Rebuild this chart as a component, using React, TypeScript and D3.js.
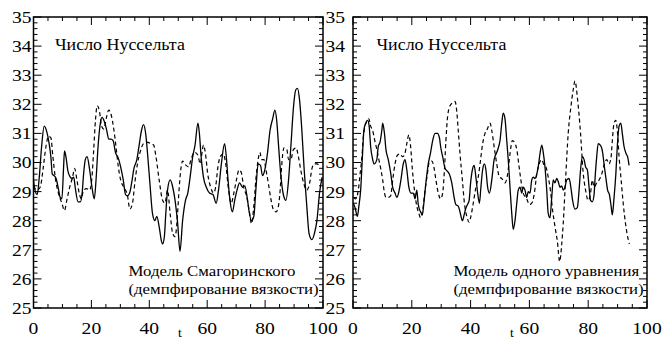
import React from 'react';
import * as d3 from 'd3';

// ---- data (t, Nu) ----
const xMajorTicks = [0, 20, 40, 60, 80, 100];
const yMajorTicks = [25, 26, 27, 28, 29, 30, 31, 32, 33, 34, 35];
const titleText = 'Число Нуссельта';
const leftNote = ['Модель Смагоринского', '(демпфирование вязкости)'];
const rightNote = ['Модель одного уравнения', '(демпфирование вязкости)'];
const xAxisLabel = 't';

const leftSolid: [number, number][] = [
  [0, 29.4], [0.5, 29.05], [1.3, 28.9], [2.0, 29.5], [2.8, 30.55], [3.7, 31.25], [4.6, 31.05], [5.4, 30.65],
  [6.0, 30.2], [6.5, 29.6], [7.1, 29.55], [7.8, 29.45], [8.6, 29.1], [9.2, 28.8], [9.8, 28.75], [10.4, 29.85],
  [10.7, 30.4], [11.2, 30.2], [11.9, 29.7], [12.7, 29.5], [13.3, 29.45], [13.9, 29.5], [14.4, 29.15], [15.4, 28.65],
  [16.2, 28.65], [16.8, 28.95], [17.3, 29.6], [17.9, 30.1], [18.5, 30.2], [19.4, 29.75], [20.2, 29.15], [21.0, 28.75],
  [21.6, 29.4], [22.3, 30.55], [23.1, 31.35], [23.7, 31.55], [24.5, 31.4], [25.2, 31.15], [26.0, 30.8], [26.8, 30.8],
  [27.5, 30.75], [28.3, 30.35], [29.3, 30.15], [30.1, 29.85], [31.0, 29.4], [31.8, 28.9], [32.4, 28.85], [33.2, 28.95],
  [33.9, 29.3], [34.7, 29.8], [35.7, 30.1], [36.5, 30.6], [37.3, 31.1], [38.0, 31.3], [38.8, 30.95], [39.4, 30.3],
  [40.2, 29.3], [41.1, 28.25], [41.9, 28.0], [42.6, 28.15], [43.4, 27.8], [44.2, 27.3], [44.6, 27.2], [45.2, 27.45],
  [45.7, 28.25], [46.3, 29.05], [47.2, 29.4], [48.1, 29.15], [48.9, 28.7], [49.8, 27.9], [50.6, 26.95], [51.5, 28.0],
  [52.5, 28.7], [53.3, 28.95], [54.1, 29.5], [55.0, 30.2], [55.8, 30.6], [56.8, 31.35], [57.3, 31.0], [57.9, 30.2],
  [58.7, 29.5], [59.7, 29.15], [60.8, 28.95], [62.0, 28.9], [63.1, 28.6], [63.9, 29.05], [64.9, 29.95], [66.0, 30.65],
  [66.6, 30.2], [67.2, 29.4], [68.0, 28.6], [68.7, 28.3], [69.5, 28.7], [70.3, 29.05], [71.2, 29.3], [72.2, 29.15],
  [73.0, 29.2], [73.8, 28.8], [74.5, 28.3], [75.3, 28.0], [76.1, 28.15], [76.8, 29.05], [77.6, 29.95], [78.4, 29.9],
  [79.1, 29.55], [79.9, 29.75], [80.8, 30.3], [81.7, 31.1], [82.6, 31.5], [83.4, 31.8], [84.0, 31.45], [84.6, 30.65],
  [85.4, 29.6], [86.3, 28.9], [87.2, 28.7], [88.1, 29.4], [88.9, 30.55], [89.8, 31.9], [90.6, 32.5], [91.2, 32.55],
  [91.9, 32.15], [92.7, 31.1], [93.5, 29.75], [94.4, 28.5], [95.2, 27.55], [96.2, 27.35], [97.0, 27.55], [97.9, 28.0],
  [98.8, 28.95], [99.7, 29.5],
];

const leftDashed: [number, number][] = [
  [0, 29.2], [1.1, 29.05], [2.3, 29.15], [3.4, 29.85], [4.3, 30.55], [5.2, 30.9], [6.0, 30.85], [6.7, 30.2],
  [7.5, 29.5], [8.6, 28.95], [9.8, 28.6], [10.7, 28.35], [11.5, 28.7], [12.5, 29.15], [13.5, 29.5], [14.2, 29.8],
  [15.0, 29.4], [15.9, 28.9], [16.5, 28.75], [17.3, 29.05], [18.3, 29.1], [19.4, 29.05], [20.2, 29.5], [20.8, 30.45],
  [21.4, 31.45], [22.0, 31.95], [22.8, 31.75], [23.5, 31.25], [24.3, 31.15], [25.2, 31.55], [26.0, 31.8], [26.8, 31.65],
  [27.8, 31.1], [28.6, 30.45], [29.3, 29.85], [30.1, 29.4], [31.2, 29.15], [32.4, 28.9], [33.3, 28.4], [34.2, 28.6],
  [35.0, 29.3], [35.9, 29.95], [36.8, 30.35], [38.0, 30.65], [39.1, 30.7], [40.5, 30.65], [41.5, 30.6], [42.3, 30.2],
  [43.4, 29.4], [44.6, 28.7], [45.4, 28.6], [46.3, 29.05], [47.2, 28.25], [48.1, 27.55], [48.9, 27.45], [49.6, 28.0],
  [50.2, 28.95], [51.0, 29.85], [51.5, 30.05], [52.7, 29.9], [53.6, 29.85], [54.4, 30.1], [55.6, 30.35], [56.8, 30.25],
  [57.6, 29.95], [58.3, 30.4], [58.7, 30.6], [59.4, 30.3], [60.2, 29.6], [61.2, 29.15], [62.2, 28.95], [62.9, 29.15],
  [63.7, 29.85], [64.5, 30.2], [65.5, 30.3], [66.4, 29.95], [67.4, 29.05], [68.3, 28.6], [69.2, 28.95], [70.1, 29.4],
  [71.0, 29.75], [71.8, 29.65], [72.6, 29.15], [73.6, 28.85], [74.5, 28.35], [75.3, 27.9], [76.1, 28.5], [76.8, 29.4],
  [77.6, 30.1], [78.2, 30.35], [78.8, 30.1], [79.6, 30.1], [80.3, 29.75], [81.1, 29.3], [81.9, 28.8], [82.8, 28.4],
  [83.8, 28.3], [84.6, 28.5], [85.2, 29.05], [85.7, 29.85], [86.5, 30.5], [87.5, 30.45], [88.1, 30.1], [88.9, 30.1],
  [89.8, 30.45], [90.7, 30.5], [91.5, 30.2], [92.3, 29.75], [93.3, 29.3], [94.4, 29.05], [95.4, 29.3], [96.2, 29.8],
  [97.0, 29.95], [97.9, 29.95], [99.1, 29.85],
];

const rightSolid: [number, number][] = [
  [0.1, 28.6], [0.7, 28.45], [1.5, 28.15], [2.0, 28.5], [2.6, 29.05], [3.2, 30.2], [3.7, 31.1], [4.3, 31.35],
  [5.0, 31.45], [5.5, 31.25], [6.0, 30.55], [6.7, 30.1], [7.2, 29.95], [8.1, 30.1], [8.6, 30.55], [9.2, 30.7],
  [9.8, 31.1], [10.1, 31.35], [10.7, 31.0], [11.2, 30.45], [12.0, 30.1], [12.8, 29.65], [13.5, 29.15], [14.3, 28.95],
  [14.9, 28.8], [15.5, 28.95], [16.3, 29.4], [17.1, 29.95], [17.7, 30.1], [18.3, 29.75], [19.0, 29.15], [19.7, 28.95],
  [20.5, 28.95], [21.1, 28.75], [21.7, 29.05], [22.2, 28.55], [23.0, 28.3], [23.6, 28.2], [24.1, 28.6], [24.8, 29.3],
  [25.6, 29.95], [26.4, 30.35], [27.1, 30.75], [27.9, 31.0], [28.7, 31.0], [29.4, 30.85], [29.8, 30.55], [30.5, 30.2],
  [31.3, 29.8], [32.1, 29.7], [32.8, 29.6], [33.6, 29.3], [34.4, 28.8], [35.0, 28.55], [35.8, 28.5], [36.4, 28.3],
  [37.2, 28.0], [37.8, 28.2], [38.3, 28.4], [38.9, 28.55], [39.5, 28.7], [40.0, 29.3], [40.6, 29.75], [41.2, 29.9],
  [41.8, 29.5], [42.4, 28.95], [43.0, 28.6], [43.5, 29.15], [44.1, 29.75], [44.7, 29.95], [45.2, 29.75], [45.8, 29.15],
  [46.4, 28.95], [47.2, 29.4], [48.0, 30.1], [48.9, 30.35], [49.4, 30.5], [50.0, 30.75], [50.6, 31.35], [51.1, 31.7],
  [51.7, 31.5], [52.3, 30.75], [52.8, 30.1], [53.4, 29.15], [54.0, 28.25], [54.5, 27.7], [55.1, 28.0], [55.7, 28.6],
  [56.2, 29.05], [56.8, 29.15], [57.4, 28.95], [57.9, 29.15], [58.5, 29.05], [59.1, 28.8], [59.6, 29.0], [60.2, 28.95],
  [60.8, 29.4], [61.3, 29.5], [61.9, 29.45], [62.5, 29.6], [63.0, 29.85], [63.6, 30.3], [64.2, 30.6], [64.7, 30.35],
  [65.3, 29.85], [65.9, 29.05], [66.4, 28.25], [67.0, 28.1], [67.6, 28.8], [68.1, 29.4], [68.7, 29.3], [69.3, 29.45],
  [69.8, 29.35], [70.4, 29.15], [71.0, 29.2], [71.5, 29.05], [72.1, 29.15], [72.7, 29.4], [73.5, 29.45], [74.1, 29.15],
  [74.7, 28.7], [75.5, 28.4], [76.3, 28.45], [76.9, 29.05], [77.4, 29.75], [78.0, 30.2], [78.6, 30.1], [79.1, 29.85],
  [79.7, 29.75], [80.3, 29.15], [80.8, 28.7], [81.4, 28.65], [82.0, 28.9], [82.3, 29.4], [82.9, 30.2], [83.4, 30.65],
  [84.4, 30.55], [84.9, 30.35], [85.5, 29.85], [86.1, 29.4], [86.6, 29.05], [87.2, 28.9], [87.8, 28.5], [88.2, 28.2],
  [88.8, 28.8], [89.4, 29.6], [89.9, 30.55], [90.5, 31.25], [91.1, 31.35], [91.6, 31.0], [92.2, 30.55], [92.9, 30.3],
  [93.4, 30.2], [93.9, 29.9],
];

const rightDashed: [number, number][] = [
  [0.1, 28.8], [0.9, 28.75], [1.8, 29.05], [2.4, 29.6], [3.0, 30.15], [3.5, 30.85], [4.1, 31.25], [4.7, 31.4],
  [5.4, 31.5], [6.0, 31.25], [6.7, 31.1], [7.2, 30.85], [8.1, 30.45], [8.8, 30.1], [9.5, 29.75], [10.1, 29.4],
  [10.7, 28.95], [11.2, 28.8], [12.0, 28.8], [12.8, 28.85], [13.5, 29.4], [14.3, 29.95], [15.1, 30.25], [16.0, 30.3],
  [16.8, 30.2], [17.5, 30.25], [18.3, 30.65], [19.0, 30.95], [19.6, 30.55], [20.2, 29.75], [20.9, 29.05], [21.7, 28.5],
  [22.4, 28.25], [23.0, 28.1], [23.7, 28.35], [24.5, 29.05], [25.3, 29.6], [25.9, 30.0], [26.8, 30.05], [27.6, 29.8],
  [28.2, 29.4], [29.0, 28.95], [29.8, 28.75], [30.5, 28.95], [31.1, 29.75], [31.6, 30.75], [32.2, 31.6], [33.0, 31.95],
  [33.9, 32.05], [34.7, 32.1], [35.3, 31.75], [35.8, 31.1], [36.4, 30.3], [37.2, 29.4], [37.9, 28.6], [38.7, 28.15],
  [39.5, 27.95], [40.1, 28.15], [40.9, 28.6], [41.8, 29.15], [42.6, 29.5], [43.4, 30.1], [44.1, 30.65], [44.9, 31.0],
  [45.7, 31.15], [46.6, 31.35], [47.2, 31.1], [48.0, 30.55], [48.9, 29.95], [49.8, 29.5], [50.6, 29.45], [51.7, 29.3],
  [52.6, 29.6], [53.4, 30.3], [54.2, 30.75], [54.9, 30.7], [55.7, 30.45], [56.5, 29.85], [57.1, 29.4], [57.9, 28.95],
  [59.1, 28.75], [60.0, 28.55], [60.8, 28.6], [61.7, 28.95], [62.5, 29.6], [63.3, 29.95], [64.2, 30.1], [65.0, 29.9],
  [65.6, 29.85], [66.4, 29.5], [67.2, 29.0], [67.9, 28.35], [68.7, 27.8], [69.5, 27.3], [70.3, 26.6], [71.0, 27.2],
  [71.5, 27.9], [72.3, 29.4], [73.2, 31.0], [74.1, 31.9], [74.9, 32.5], [75.5, 32.8], [76.4, 32.15], [77.4, 31.0],
  [78.2, 29.75], [79.1, 29.05], [80.0, 28.7], [80.8, 28.95], [81.4, 29.4], [82.0, 29.15], [82.9, 29.3], [83.7, 29.4],
  [84.6, 29.6], [85.5, 29.95], [86.3, 30.1], [87.1, 29.95], [87.8, 30.2], [88.2, 30.75], [88.8, 31.35], [89.4, 31.45],
  [89.9, 31.1], [90.5, 30.2], [91.2, 29.4], [91.9, 28.6], [92.7, 27.9], [93.4, 27.45], [94.0, 27.2],
];

// ---- layout ----
const W = 662;
const H = 340;
const Y_TOP = 17;
const Y_BOT = 308;
const STRETCH = 1.12;
const FONT = 'Times New Roman';

type PanelCfg = {
  x0: number;
  x1: number;
  solid: [number, number][];
  dashed: [number, number][];
  note: string[];
  yLabelEnd: number;
  titleX: number;
  noteX: number;
  tX: number;
};

const panelCfgs: PanelCfg[] = [
  { x0: 33.5, x1: 323, solid: leftSolid, dashed: leftDashed, note: leftNote, yLabelEnd: 31.5, titleX: 55, noteX: 128.5, tX: 180 },
  { x0: 353, x1: 647, solid: rightSolid, dashed: rightDashed, note: rightNote, yLabelEnd: 345, titleX: 376.5, noteX: 453.5, tX: 512 },
];

function SText({ x, y, size, anchor, children }: { x: number; y: number; size: number; anchor?: string; children: React.ReactNode }) {
  return (
    <text
      x={x / STRETCH}
      y={y}
      transform={`scale(${STRETCH},1)`}
      textAnchor={anchor || 'start'}
      fontSize={size}
      fontFamily={FONT}
      fill="#000"
    >
      {children}
    </text>
  );
}

function Panel({ cfg }: { cfg: PanelCfg }) {
  const x = d3.scaleLinear().domain([0, 100]).range([cfg.x0, cfg.x1]);
  const y = d3.scaleLinear().domain([25, 35]).range([Y_BOT, Y_TOP]);
  const line = d3
    .line<[number, number]>()
    .x((d) => x(d[0]))
    .y((d) => y(d[1]))
    .curve(d3.curveMonotoneX);

  const xMinor = d3.range(0, 100.001, 5);
  const yMinor = d3.range(0, 51).map((i) => 25 + i * 0.2);

  return (
    <g>
      <path d={line(cfg.dashed) || ''} fill="none" stroke="#000" strokeWidth={1.2} strokeDasharray="4,3" />
      <path d={line(cfg.solid) || ''} fill="none" stroke="#000" strokeWidth={1.3} />

      {xMinor.map((t) => {
        const major = Math.abs(t % 20) < 1e-6;
        const len = major ? 8 : 4;
        const px = x(t);
        return (
          <g key={'xt' + t}>
            <line x1={px} x2={px} y1={Y_BOT} y2={Y_BOT - len} stroke="#000" strokeWidth={1} />
            <line x1={px} x2={px} y1={Y_TOP} y2={Y_TOP + len} stroke="#000" strokeWidth={1} />
          </g>
        );
      })}
      {yMinor.map((v, i) => {
        const major = i % 5 === 0;
        const len = major ? 8 : 4;
        const py = y(v);
        return (
          <g key={'yt' + i}>
            <line x1={cfg.x0} x2={cfg.x0 + len} y1={py} y2={py} stroke="#000" strokeWidth={1} />
            <line x1={cfg.x1} x2={cfg.x1 - len} y1={py} y2={py} stroke="#000" strokeWidth={1} />
          </g>
        );
      })}

      <rect x={cfg.x0} y={Y_TOP} width={cfg.x1 - cfg.x0} height={Y_BOT - Y_TOP} fill="none" stroke="#000" strokeWidth={1.5} />

      {xMajorTicks.map((t) => (
        <SText key={'xl' + t} x={x(t)} y={334} size={17.5} anchor="middle">
          {t}
        </SText>
      ))}
      {yMajorTicks.map((v) => (
        <SText key={'yl' + v} x={cfg.yLabelEnd} y={y(v) + 6} size={17.5} anchor="end">
          {v}
        </SText>
      ))}

      <SText x={cfg.tX} y={337} size={12} anchor="middle">
        {xAxisLabel}
      </SText>

      <SText x={cfg.titleX} y={50} size={16}>
        {titleText}
      </SText>
      <SText x={cfg.noteX} y={276.5} size={15}>
        {cfg.note[0]}
      </SText>
      <SText x={cfg.noteX} y={294.5} size={15}>
        {cfg.note[1]}
      </SText>
    </g>
  );
}

export default function App() {
  return (
    <svg
      width={W}
      height={H}
      viewBox={`0 0 ${W} ${H}`}
      style={{ position: 'absolute', left: 0, top: 0, background: '#fff' }}
    >
      <style>{`text { font-family: "Times New Roman", "Liberation Serif", Tinos, serif; }`}</style>
      <rect x={0} y={0} width={W} height={H} fill="#fff" />
      {panelCfgs.map((cfg, i) => (
        <Panel key={i} cfg={cfg} />
      ))}
    </svg>
  );
}
